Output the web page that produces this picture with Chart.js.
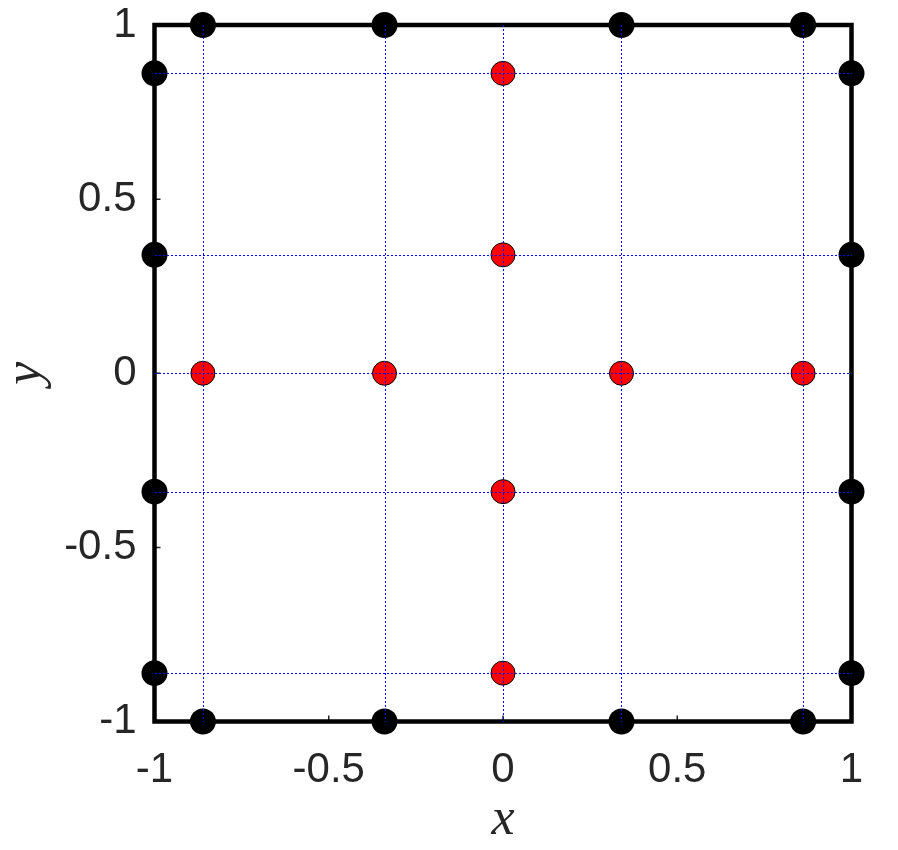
<!DOCTYPE html>
<html>
<head>
<meta charset="utf-8">
<script src="https://cdn.jsdelivr.net/npm/chart.js@4/dist/chart.umd.min.js"></script>
<style>
html,body{margin:0;padding:0;background:#fff;}
canvas{display:block;}
</style>
</head>
<body>
<canvas id="c" width="898" height="850"></canvas>
<script>
// Boundary (black) points
const blackX = [-0.8611, -0.34, 0.34, 0.8611, -0.8611, -0.34, 0.34, 0.8611, -1, -1, -1, -1, 1, 1, 1, 1];
const blackY = [-1, -1, -1, -1, 1, 1, 1, 1, -0.8611, -0.34, 0.34, 0.8611, -0.8611, -0.34, 0.34, 0.8611];
// Interior (red) points
const redX = [-0.8611, -0.34, 0.34, 0.8611, 0, 0, 0, 0];
const redY = [0, 0, 0, 0, -0.8611, -0.34, 0.34, 0.8611];
// Dotted guide lines (same values on x and y)
const guideValues = [-0.8611, -0.34, 0, 0.34, 0.8611];
// Axis ticks
const tickValues = [-1, -0.5, 0, 0.5, 1];
const tickLabels = ['-1', '-0.5', '0', '0.5', '1'];
const xTitle = 'x';
const yTitle = 'y';

const toPts = (xs, ys) => xs.map((x, i) => ({x: x, y: ys[i]}));

const framePlugin = {
  id: 'frame',
  beforeDatasetsDraw(chart) {
    const {ctx, chartArea: a} = chart;
    const xs = chart.scales.x, ys = chart.scales.y;
    ctx.save();
    ctx.strokeStyle = '#262626';
    ctx.lineWidth = 1.5;
    ctx.beginPath();
    tickValues.forEach(v => {
      const px = xs.getPixelForValue(v);
      ctx.moveTo(px, a.bottom); ctx.lineTo(px, a.bottom - 6);
      const py = ys.getPixelForValue(v);
      ctx.moveTo(a.left, py); ctx.lineTo(a.left + 6, py);
    });
    ctx.stroke();
    ctx.strokeStyle = '#000';
    ctx.lineWidth = 4.5;
    ctx.lineJoin = 'miter';
    ctx.strokeRect(a.left, a.top, a.right - a.left, a.bottom - a.top);
    ctx.restore();
  },
  afterDatasetsDraw(chart) {
    const {ctx} = chart;
    const xs = chart.scales.x, ys = chart.scales.y;
    ctx.save();
    ctx.strokeStyle = '#0000ff';
    ctx.lineWidth = 1;
    ctx.setLineDash([2, 2]);
    guideValues.forEach(v => {
      const px = Math.round(xs.getPixelForValue(v)) + 0.5;
      ctx.beginPath();
      ctx.moveTo(px, Math.round(ys.getPixelForValue(1)));
      ctx.lineTo(px, Math.round(ys.getPixelForValue(-1)));
      ctx.stroke();
      const py = Math.round(ys.getPixelForValue(v)) + 0.5;
      ctx.beginPath();
      ctx.moveTo(Math.round(xs.getPixelForValue(-1)), py);
      ctx.lineTo(Math.round(xs.getPixelForValue(1)), py);
      ctx.stroke();
    });
    ctx.restore();
  }
};

const tickFont = {family: '"Liberation Sans", Arial, sans-serif', size: 42, lineHeight: 1.0};
const titleFont = {family: '"Liberation Serif", "DejaVu Serif", serif', size: 52, style: 'italic', lineHeight: 1.0};

new Chart(document.getElementById('c'), {
  type: 'scatter',
  data: {
    datasets: [
      {
        label: 'boundary',
        data: toPts(blackX, blackY),
        pointRadius: 13,
        pointHoverRadius: 13,
        pointBackgroundColor: '#000',
        pointBorderColor: '#000',
        pointBorderWidth: 0,
        clip: false
      },
      {
        label: 'interior',
        data: toPts(redX, redY),
        pointRadius: 12,
        pointHoverRadius: 12,
        pointBackgroundColor: '#ff0000',
        pointBorderColor: '#000',
        pointBorderWidth: 1,
        clip: false
      }
    ]
  },
  options: {
    responsive: false,
    animation: false,
    devicePixelRatio: 1,
    layout: {padding: {left: 0, right: 46.5, top: 25, bottom: 0}},
    plugins: {legend: {display: false}, tooltip: {enabled: false}},
    scales: {
      x: {
        type: 'linear', min: -1, max: 1,
        grid: {display: false, drawTicks: false},
        border: {display: false},
        afterBuildTicks: s => { s.ticks = tickValues.map(v => ({value: v})); },
        ticks: {
          color: '#262626', font: tickFont, padding: 28, maxRotation: 0,
          callback: (v) => tickLabels[tickValues.indexOf(v)]
        },
        title: {display: true, text: xTitle, color: '#262626', font: titleFont, padding: {top: 0, bottom: 4}},
        afterFit: s => { s.height = 128.5; s.paddingLeft = 0; s.paddingRight = 0; }
      },
      y: {
        type: 'linear', min: -1, max: 1,
        grid: {display: false, drawTicks: false},
        border: {display: false},
        afterBuildTicks: s => { s.ticks = tickValues.map(v => ({value: v})); },
        ticks: {
          color: '#262626', font: tickFont, padding: 18,
          callback: (v) => tickLabels[tickValues.indexOf(v)]
        },
        title: {display: true, text: yTitle, color: '#262626', font: titleFont, padding: {top: 0, bottom: 0}},
        afterFit: s => { s.width = 154.5; s.paddingTop = 0; s.paddingBottom = 0; }
      }
    }
  },
  plugins: [framePlugin]
});
</script>
</body>
</html>
